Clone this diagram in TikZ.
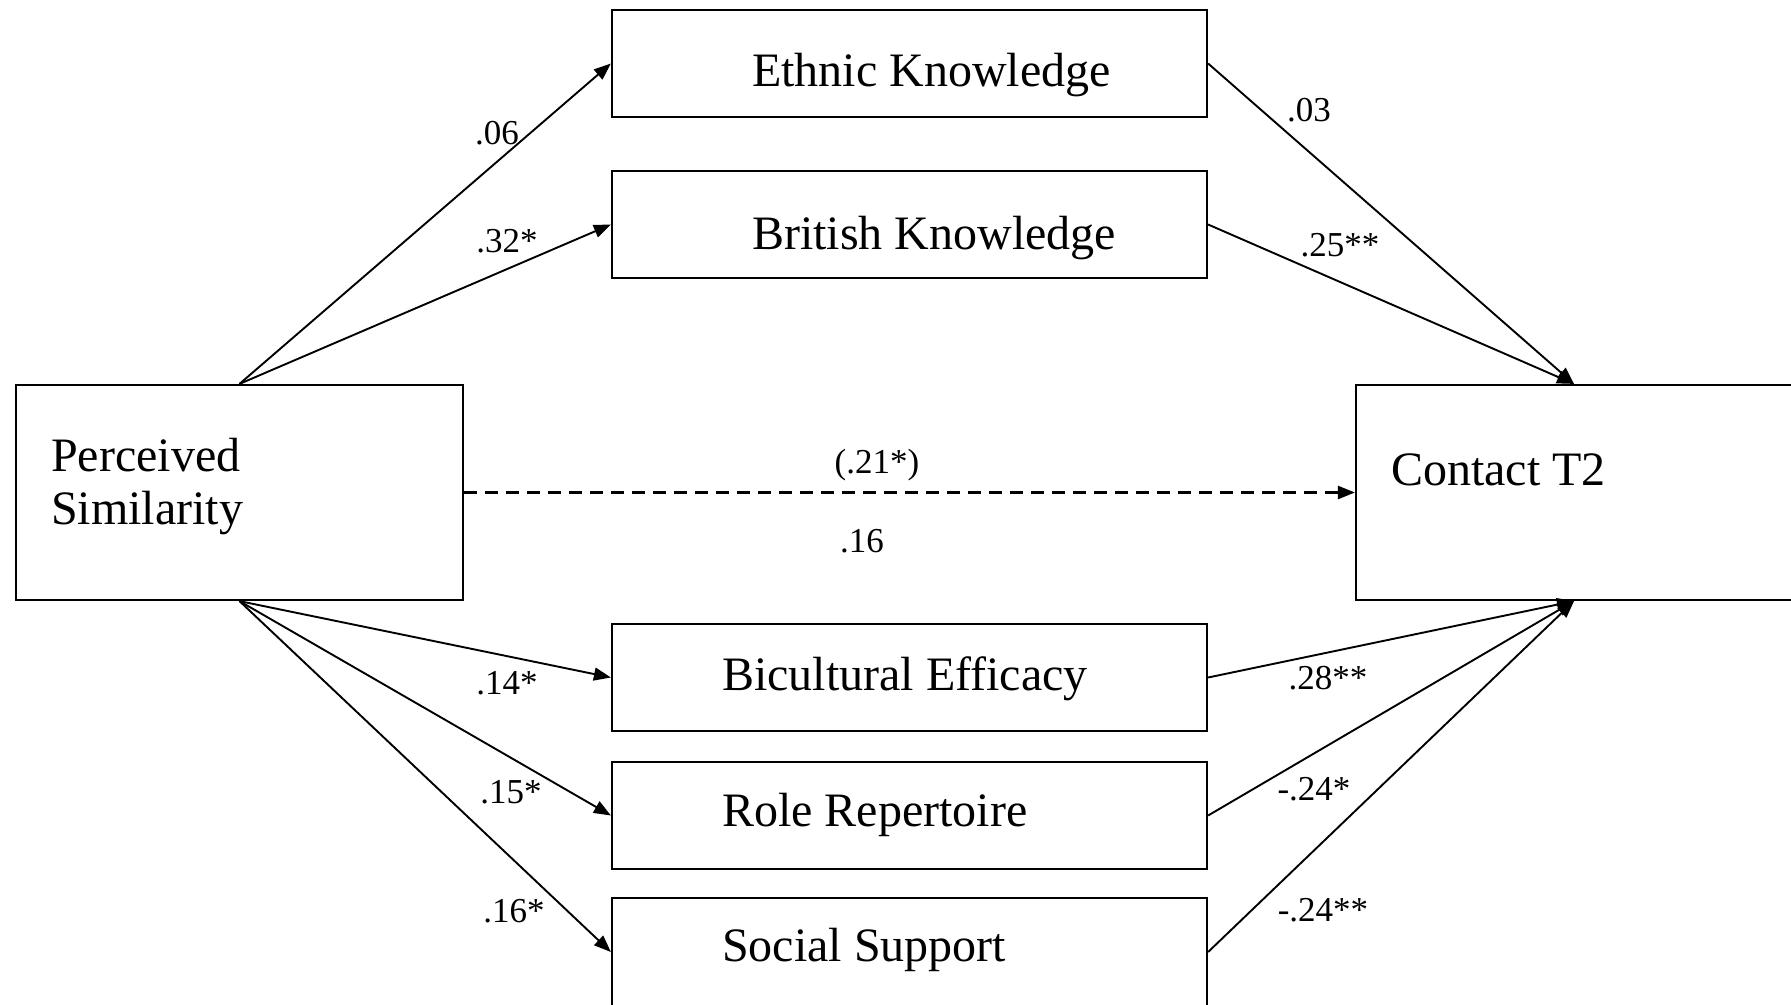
\documentclass[tikz,border=0pt]{standalone}
\usepackage{fontspec}
\setmainfont{Liberation Serif}
\usetikzlibrary{arrows.meta}

\begin{document}
\begin{tikzpicture}[x=1pt, y=-1pt]
        % canvas (same size as the reference)
        \useasboundingbox (0,0) rectangle (1791,1004);
        \clip (0,0) rectangle (1791,1004);

        % styles
        \tikzstyle{varbox} = [draw=black, line width=2.2pt, minimum width=595pt, minimum height=107pt, inner sep=0pt]
        \tikzstyle{bigbox} = [varbox, minimum width=447pt, minimum height=215pt]
        \tikzstyle{boxtext} = [anchor=base west, inner sep=0pt, font=\fontsize{48}{53}\selectfont]
        \tikzstyle{coef} = [inner sep=0pt, font=\fontsize{35}{40}\selectfont]
        \tikzstyle{pathline} = [line width=1.9pt, -{Triangle[length=17pt, width=13pt]}]
        \tikzstyle{directpath} = [pathline, line width=2.5pt, dash pattern=on 13pt off 8pt]

        % 1. predictor and outcome
        \node[bigbox] (ps) at (239.5,492.5) {};
        \node[boxtext, anchor=north west, align=left] (ps-t) at (51,438) {Perceived\\Similarity};

        \node[bigbox, minimum width=436pt] (ct) at (1574,492.5) {};
        \node[boxtext] (ct-t) at (1391,485) {Contact T2};

        % 2. mediators
        \node[varbox] (ek) at (909.5,63.5) {};
        \node[boxtext] (ek-t) at (752,86) {Ethnic Knowledge};

        \node[varbox] (bk) at (909.5,224.5) {};
        \node[boxtext] (bk-t) at (752,249) {British Knowledge};

        \node[varbox] (be) at (909.5,677.5) {};
        \node[boxtext] (be-t) at (722,690) {Bicultural Efficacy};

        \node[varbox] (rr) at (909.5,815.5) {};
        \node[boxtext] (rr-t) at (722,826) {Role Repertoire};

        \node[varbox, minimum height=108pt] (ss) at (909.5,952) {};
        \node[boxtext] (ss-t) at (722,961) {Social Support};

        % 3. paths a (predictor -> mediators)
        \draw[pathline] (ps.north) -- (ek.west) node[coef] (a-ek) at (497,133) {.06};
        \draw[pathline] (ps.north) -- (bk.west) node[coef] (a-bk) at (507,241) {.32*};
        \draw[pathline] (ps.south) -- (be.west) node[coef] (a-be) at (507,683) {.14*};
        \draw[pathline] (ps.south) -- (rr.west) node[coef] (a-rr) at (511,792) {.15*};
        \draw[pathline] (ps.south) -- (ss.west) node[coef] (a-ss) at (514,911) {.16*};

        % 4. paths b (mediators -> outcome)
        \draw[pathline] (ek.east) -- (ct.north) node[coef] (b-ek) at (1309,110) {.03};
        \draw[pathline] (bk.east) -- (ct.north) node[coef] (b-bk) at (1340,245) {.25**};
        \draw[pathline] (be.east) -- (ct.south) node[coef] (b-be) at (1328,678) {.28**};
        \draw[pathline] (rr.east) -- (ct.south) node[coef] (b-rr) at (1314,789) {-.24*};
        \draw[pathline] (ss.east) -- (ct.south) node[coef] (b-ss) at (1323,910) {-.24**};

        % 5. direct path (total effect above, direct effect below)
        \draw[directpath] (ps.east) -- (ct.west)
            node[coef] (c-tot) at (877,465) {(.21*)}
            node[coef] (c-dir) at (862,541) {.16};

\end{tikzpicture}
\end{document}
